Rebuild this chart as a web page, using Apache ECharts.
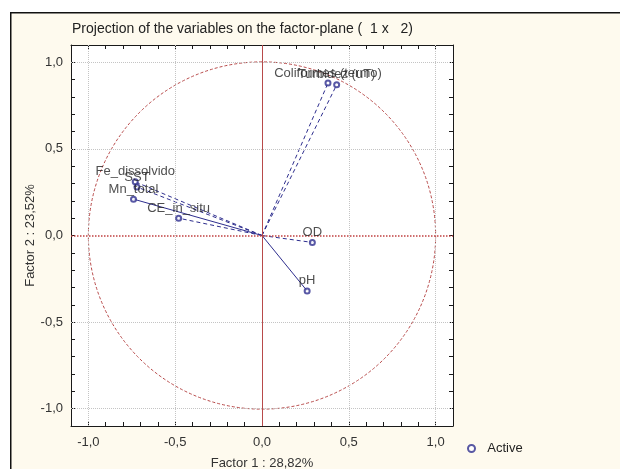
<!DOCTYPE html>
<html>
<head>
<meta charset="utf-8">
<script src="https://cdn.jsdelivr.net/npm/echarts@6/dist/echarts.min.js"></script>
<style>
html,body{margin:0;padding:0;background:#fff;}
#chart{width:620px;height:469px;}
</style>
</head>
<body>
<div id="chart"></div>
<script>
// ---- data ----
var variables = ['Coliformes (termo)', 'Turbidez (uT)', 'Fe_dissolvido', 'SST', 'Mn_total', 'CE_in_situ', 'OD', 'pH'];
var factor1 = [0.38, 0.43, -0.73, -0.72, -0.74, -0.48, 0.29, 0.26];
var factor2 = [0.88, 0.87, 0.31, 0.28, 0.21, 0.10, -0.04, -0.32];
var gridValues = [-1.0, -0.5, 0.5, 1.0];
var legendLabel = 'Active';
var titleText = 'Projection of the variables on the factor-plane (  1 x   2)';
var xName = 'Factor 1 : 28,82%';
var yName = 'Factor 2 : 23,52%';
var axisMin = -1.1, axisMax = 1.1;

// ---- styles ----
var solidSet = {'Mn_total': true, 'pH': true};
var navy = '#2e2e8e';
var fontFam = 'Arial, "Liberation Sans", sans-serif';

function isMajor(v){ return Math.abs(v*2 - Math.round(v*2)) < 1e-6; }
function fmt(v){ return isMajor(v) ? v.toFixed(1).replace('.', ',') : ''; }

var chart = echarts.init(document.getElementById('chart'), null, {renderer:'canvas'});

var points = variables.map(function(n,i){ return {name:n, value:[factor1[i], factor2[i]]}; });

var vectorSeries = variables.map(function(n,i){
  return {
    type:'line', name:n, xAxisIndex:0, yAxisIndex:0,
    data:[[0,0],[factor1[i], factor2[i]]],
    symbol:'none', silent:true, z:3,
    lineStyle:{color:navy, width:1, type: solidSet[n] ? 'solid' : [4,3]}
  };
});

function mkAxis(isX, pos, labels){
  var a = {
    type:'value', position:pos, min:axisMin, max:axisMax, interval:0.1,
    axisLine:{show:true, onZero:false, lineStyle:{color:'#1a1a1a', width:1}},
    axisTick:{show:true, inside:true, length:4, lineStyle:{color:'#1a1a1a'}},
    axisLabel:{show:labels, formatter:fmt, color:'#333', fontSize:13, fontFamily:fontFam, margin: isX ? 10 : 8},
    splitLine:{show:false},
    nameTextStyle:{color:'#333', fontSize:13, fontFamily:fontFam}
  };
  if (labels) {
    a.name = isX ? xName : yName;
    a.nameLocation = 'middle';
    a.nameMoveOverlap = false;
    a.nameGap = isX ? 31 : 34;
    if (!isX) a.nameRotate = 90;
  }
  return a;
}

var gridLines = [];
gridValues.forEach(function(v){
  gridLines.push({xAxis:v});
  gridLines.push({yAxis:v});
});

var option = {
  animation:false,
  backgroundColor:'#ffffff',
  graphic:[{
    type:'rect', left:10, top:12, z:-10, silent:true,
    shape:{width:700, height:520},
    style:{fill:'#fefaee', stroke:'#111', lineWidth:1.5}
  }],
  title:{text:titleText, left:67, top:17,
    textStyle:{color:'#222', fontSize:14, fontWeight:'normal', fontFamily:fontFam}},
  legend:{data:[{name:legendLabel, icon:'emptyCircle'}], left:462, top:437, itemWidth:7, itemHeight:7, itemGap:10,
    formatter:function(n){ return '  ' + n; },
    textStyle:{color:'#222', fontSize:13, fontFamily:fontFam}},
  grid:{left:71, right:167, top:45, bottom:43, show:true, backgroundColor:'#ffffff', borderWidth:0,
    outerBoundsMode:'none', containLabel:false},
  xAxis:[mkAxis(true, 'bottom', true), mkAxis(true, 'top', false)],
  yAxis:[mkAxis(false, 'left', true), mkAxis(false, 'right', false)],
  series: [{
    type:'line', name:'grid', xAxisIndex:0, yAxisIndex:0, data:[], silent:true, z:1,
    markLine:{silent:true, symbol:'none', label:{show:false}, animation:false,
      lineStyle:{color:'#c4c4c4', type:'dotted', width:1},
      data:gridLines}
  }, {
    type:'custom', name:'circle', xAxisIndex:0, yAxisIndex:0, silent:true, z:2,
    data:[[0,0]],
    renderItem:function(params, api){
      var c = api.coord([0,0]);
      var s = api.size([1,1]);
      return {type:'group', children:[
        {type:'circle', shape:{cx:c[0], cy:c[1], r:s[0]}, style:{fill:null, stroke:'#b84a4a', lineWidth:1, lineDash:[3,2]}}
      ]};
    }
  }, {
    type:'line', name:'axes0', xAxisIndex:0, yAxisIndex:0, data:[], silent:true, z:2,
    markLine:{silent:true, symbol:'none', label:{show:false}, animation:false,
      data:[
        {xAxis:0, lineStyle:{color:'#b84a4a', type:'solid', width:1}},
        {yAxis:0, lineStyle:{color:'#c04040', type:'dotted', width:1.5}}
      ]}
  }].concat(vectorSeries).concat([{
    type:'scatter', name:legendLabel, xAxisIndex:0, yAxisIndex:0, z:5,
    symbol:'emptyCircle', symbolSize:5,
    itemStyle:{color:navy, borderColor:navy, borderWidth:1},
    data:points,
    label:{show:true, position:'top', distance:0, formatter:'{b}', color:'#222', fontSize:13, fontFamily:fontFam}
  }])
};
chart.setOption(option);
</script>
</body>
</html>
